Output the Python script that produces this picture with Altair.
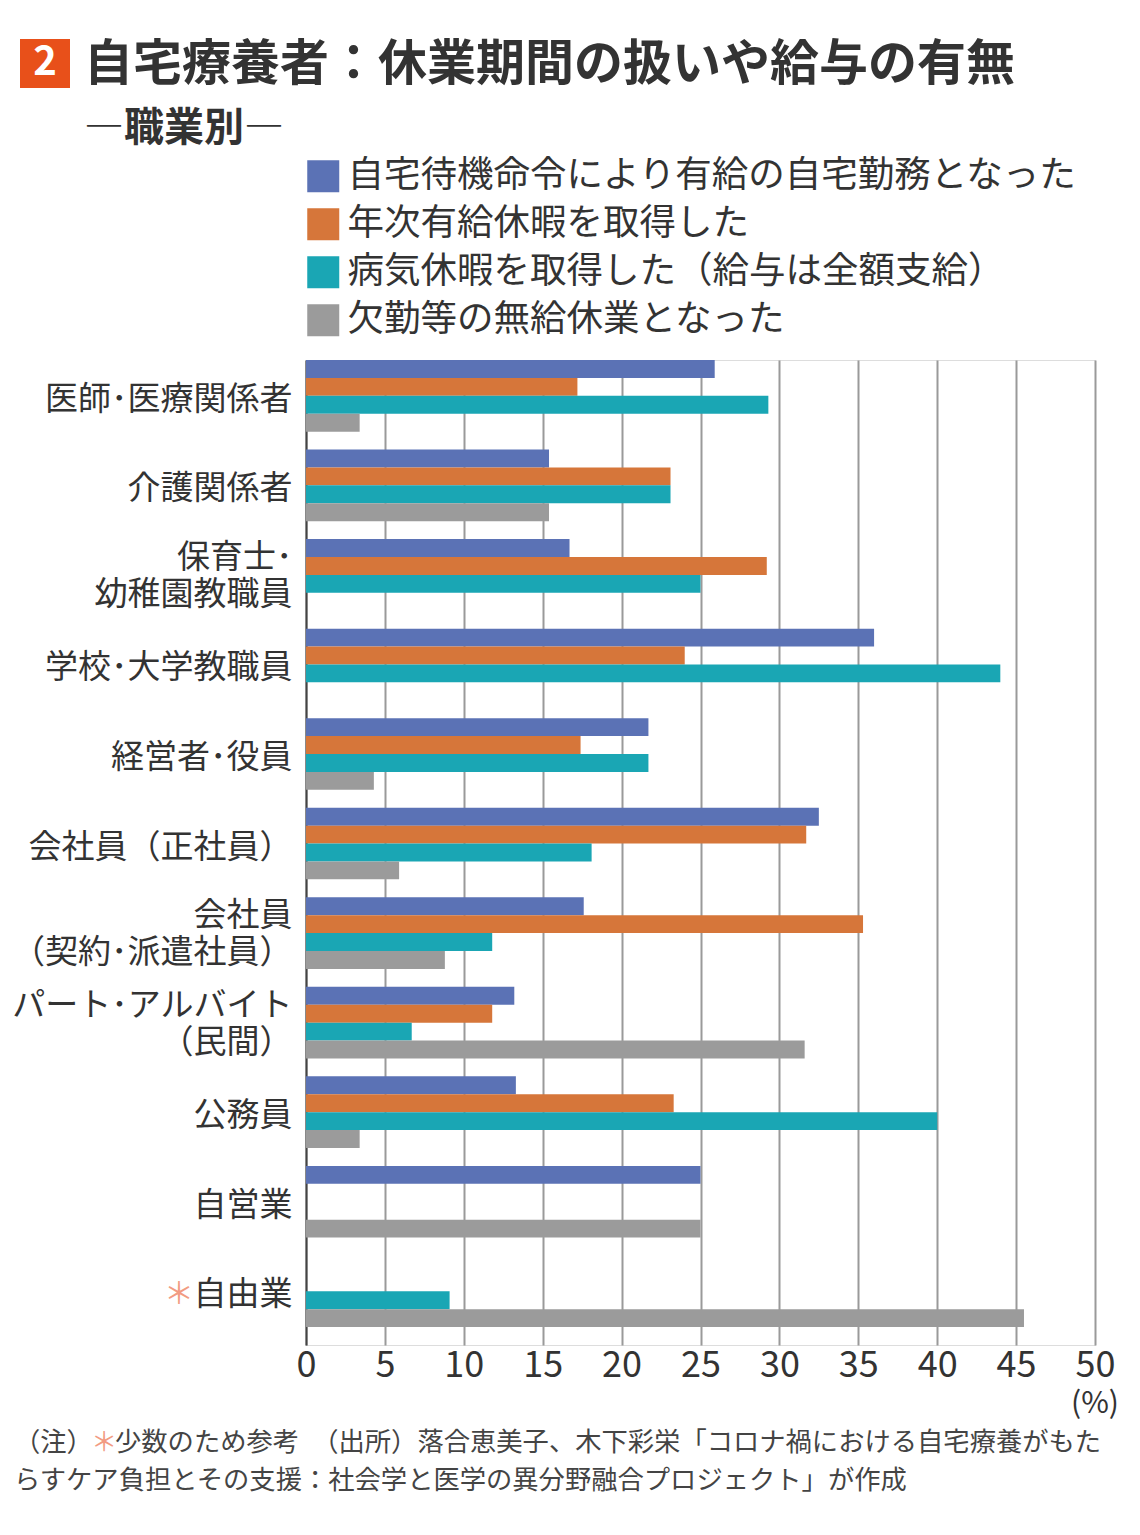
import altair as alt
import pandas as pd

FONT = "Noto Sans CJK JP"

categories = [
    "医師･医療関係者", "介護関係者", "保育士･\n幼稚園教職員", "学校･大学教職員",
    "経営者･役員", "会社員（正社員）", "会社員\n（契約･派遣社員）",
    "パート･アルバイト\n（民間）", "公務員", "自営業", "自由業",
]
series = [
    "自宅待機命令により有給の自宅勤務となった",
    "年次有給休暇を取得した",
    "病気休暇を取得した（給与は全額支給）",
    "欠勤等の無給休業となった",
]
v_paid_home = [25.9, 15.4, 16.7, 36.0, 21.7, 32.5, 17.6, 13.2, 13.3, 25.0, 0]
v_annual = [17.2, 23.1, 29.2, 24.0, 17.4, 31.7, 35.3, 11.8, 23.3, 0, 0]
v_sick = [29.3, 23.1, 25.0, 44.0, 21.7, 18.1, 11.8, 6.7, 40.0, 0, 9.1]
v_unpaid = [3.4, 15.4, 0, 0, 4.3, 5.9, 8.8, 31.6, 3.4, 25.0, 45.5]
colors = ["#5B72B5", "#D6763A", "#1AA6B4", "#9B9B9B"]
x_ticks = [0, 5, 10, 15, 20, 25, 30, 35, 40, 45, 50]

title_num = "2"
title_text = "自宅療養者：休業期間の扱いや給与の有無"
subtitle_text = "―職業別―"
unit_text = "(%)"
note_head = "（注）"
note_star = "＊"
note_rest1 = "少数のため参考　（出所）落合恵美子、木下彩栄「コロナ禍における自宅療養がもた"
note_line2 = "らすケア負担とその支援：社会学と医学の異分野融合プロジェクト」が作成"
star_category = "自由業"

rows = []
for s, vals in zip(series, [v_paid_home, v_annual, v_sick, v_unpaid]):
    for c, v in zip(categories, vals):
        if v > 0:
            rows.append({"cat": c, "series": s, "value": v})
df = pd.DataFrame(rows)

W, H = 789, 985
TXT = "#333333"

bars = alt.Chart(df).mark_bar().encode(
    x=alt.X("value:Q",
            scale=alt.Scale(domain=[0, 50], nice=False, zero=True),
            axis=alt.Axis(values=x_ticks, title=None, grid=True, gridColor="#9a9a9a",
                          gridWidth=2, ticks=False, domain=False, labelFontSize=36,
                          labelColor=TXT, labelPadding=3, labelFont=FONT,
                          labelFlush=False)),
    y=alt.Y("cat:N", sort=categories,
            scale=alt.Scale(domain=categories, paddingInner=0, paddingOuter=0),
            axis=alt.Axis(title=None, ticks=False, domain=True, domainColor="#444444",
                          domainWidth=2, labelExpr="split(datum.label, '\\n')",
                          labelFontSize=33, labelColor=TXT, labelPadding=14,
                          labelOffset={"condition": {"test": "indexof(datum.label, '\\n') >= 0",
                                                     "value": -26},
                                       "value": -5},
                          labelLineHeight=37, labelFont=FONT, labelLimit=0)),
    yOffset=alt.YOffset("series:N",
                        scale=alt.Scale(domain=series + [" "], paddingInner=0, paddingOuter=0)),
    color=alt.Color("series:N", scale=alt.Scale(domain=series, range=colors),
                    legend=alt.Legend(title=None, orient="none", legendX=-1, legendY=-202,
                                      symbolType="square", symbolSize=1024,
                                      symbolStrokeWidth=0, symbolOpacity=1,
                                      labelFontSize=36.5, labelFont=FONT, labelColor=TXT,
                                      labelOffset=6, rowPadding=11, padding=0,
                                      labelLimit=0)),
)

one = pd.DataFrame({"t": [title_num]})

box = alt.Chart(one).mark_rect(color="#E8501A").encode(
    x=alt.value(-286), x2=alt.value(-236), y=alt.value(-321), y2=alt.value(-272))

num = alt.Chart(one).mark_text(font=FONT, fontSize=40, fontWeight="bold", color="white",
                               align="center", baseline="middle").encode(
    x=alt.value(-261), y=alt.value(-297), text="t:N")

title = alt.Chart(pd.DataFrame({"t": [title_text]})).mark_text(
    font=FONT, fontSize=49, fontWeight="bold", color=TXT, align="left",
    baseline="middle").encode(x=alt.value(-222), y=alt.value(-295), text="t:N")

subtitle = alt.Chart(pd.DataFrame({"t": [subtitle_text]})).mark_text(
    font=FONT, fontSize=40, fontWeight="bold", color=TXT, align="left",
    baseline="middle").encode(x=alt.value(-222), y=alt.value(-231), text="t:N")

star = alt.Chart(pd.DataFrame({"cat": [star_category], "t": [note_star]})).mark_text(
    font=FONT, fontSize=30, color="#F29B82", align="right", baseline="middle",
    dy=-5).encode(x=alt.value(-112), y=alt.Y("cat:N", sort=categories), text="t:N")

unit = alt.Chart(pd.DataFrame({"t": [unit_text]})).mark_text(
    font=FONT, fontSize=30, color=TXT, align="center", baseline="middle").encode(
    x=alt.value(789), y=alt.value(1044), text="t:N")

FN = 26.3
n1 = alt.Chart(pd.DataFrame({"t": [note_head]})).mark_text(
    font=FONT, fontSize=FN, color="#444444", align="left", baseline="middle").encode(
    x=alt.value(-292), y=alt.value(1083), text="t:N")
n2 = alt.Chart(pd.DataFrame({"t": [note_star]})).mark_text(
    font=FONT, fontSize=FN, color="#F29B82", align="left", baseline="middle").encode(
    x=alt.value(-215), y=alt.value(1083), text="t:N")
n3 = alt.Chart(pd.DataFrame({"t": [note_rest1]})).mark_text(
    font=FONT, fontSize=FN, color="#444444", align="left", baseline="middle").encode(
    x=alt.value(-191), y=alt.value(1083), text="t:N")
n4 = alt.Chart(pd.DataFrame({"t": [note_line2]})).mark_text(
    font=FONT, fontSize=FN, color="#444444", align="left", baseline="middle").encode(
    x=alt.value(-292), y=alt.value(1121), text="t:N")

chart = alt.layer(bars, box, num, title, subtitle, star, unit, n1, n2, n3, n4).properties(
    width=W, height=H,
    padding={"left": 298, "top": 352, "right": 30, "bottom": 170},
    autosize=alt.AutoSizeParams(type="none"),
).configure_view(stroke=None).configure(background="white")

chart.save("out.html", embed_options={"renderer": "svg", "actions": False})
